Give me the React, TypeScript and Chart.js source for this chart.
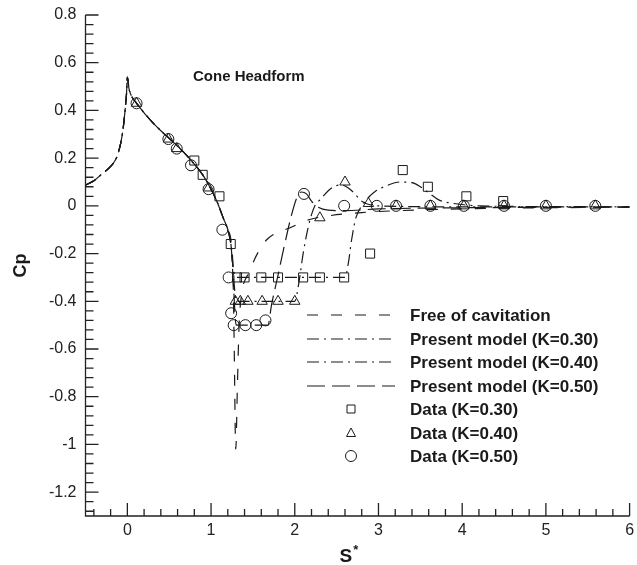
import { useEffect, useRef } from 'react';
import { Chart, registerables } from 'chart.js';

Chart.register(...registerables);

const FONT = '"Liberation Sans", Arial, Helvetica, sans-serif';
const INK = '#1a1a1a';

// Axis ticks
const X_TICKS = [0, 1, 2, 3, 4, 5, 6];
const Y_TICKS = [0.8, 0.6, 0.4, 0.2, 0, -0.2, -0.4, -0.6, -0.8, -1, -1.2];
const Y_LABELS = ['0.8', '0.6', '0.4', '0.2', '0', '-0.2', '-0.4', '-0.6', '-0.8', '-1', '-1.2'];

// Wetted nose region shared by all computed curves (stagnation peak at S*=0)
const noseS = [-0.5, -0.4, -0.3, -0.2, -0.12, -0.06, -0.03, -0.01, 0, 0.02, 0.05, 0.1, 0.2, 0.3, 0.4, 0.5, 0.6, 0.7, 0.8, 0.9, 1.0, 1.08, 1.15, 1.2];
const noseCp = [0.087, 0.105, 0.135, 0.165, 0.21, 0.3, 0.39, 0.47, 0.54, 0.49, 0.46, 0.435, 0.39, 0.35, 0.315, 0.283, 0.25, 0.215, 0.175, 0.13, 0.07, 0.01, -0.055, -0.1];

// Free of cavitation: suction spike at the shoulder, then recovery
const freeTailS = [1.24, 1.26, 1.275, 1.295, 1.315, 1.335, 1.37, 1.42, 1.46, 1.5, 1.57, 1.67, 1.8, 1.93, 2.1, 2.2, 2.4, 2.8, 3.5, 4.5, 6];
const freeTailCp = [-0.15, -0.25, -0.55, -1.02, -0.75, -0.5, -0.36, -0.3, -0.28, -0.24, -0.19, -0.14, -0.11, -0.094, -0.067, -0.055, -0.042, -0.028, -0.017, -0.01, -0.005];

// Present model, K = 0.30
const k30TailS = [1.24, 1.27, 1.3, 2.6, 2.64, 2.68, 2.73, 2.8, 2.88, 2.96, 3.1, 3.25, 3.4, 3.5, 3.6, 3.72, 3.9, 4.2, 5, 6];
const k30TailCp = [-0.17, -0.27, -0.3, -0.3, -0.24, -0.14, -0.05, 0.0, 0.035, 0.06, 0.085, 0.1, 0.097, 0.08, 0.055, 0.025, 0.01, 0.0, -0.003, -0.004];

// Present model, K = 0.40
const k40TailS = [1.24, 1.27, 1.3, 2.0, 2.05, 2.1, 2.17, 2.24, 2.3, 2.44, 2.55, 2.64, 2.72, 2.78, 2.85, 3.0, 4, 6];
const k40TailCp = [-0.17, -0.3, -0.4, -0.4, -0.32, -0.2, -0.075, 0.0, 0.025, 0.075, 0.088, 0.075, 0.05, 0.025, 0.01, 0.0, -0.004, -0.004];

// Present model, K = 0.50
const k50TailS = [1.24, 1.27, 1.3, 1.68, 1.72, 1.8, 1.88, 1.96, 2.02, 2.08, 2.14, 2.2, 2.28, 2.4, 2.6, 3.0, 4, 6];
const k50TailCp = [-0.17, -0.35, -0.5, -0.5, -0.42, -0.29, -0.16, -0.04, 0.03, 0.058, 0.05, 0.02, -0.006, -0.018, -0.02, -0.013, -0.008, -0.005];

// Measurements
const dataK30S = [0.8, 0.9, 1.1, 1.235, 1.31, 1.4, 1.6, 1.8, 2.1, 2.3, 2.59, 2.9, 3.29, 3.59, 4.05, 4.49];
const dataK30Cp = [0.19, 0.13, 0.04, -0.16, -0.3, -0.3, -0.3, -0.3, -0.3, -0.3, -0.3, -0.2, 0.15, 0.08, 0.04, 0.02];

const dataK40S = [0.11, 0.49, 0.59, 0.97, 1.29, 1.35, 1.44, 1.61, 1.8, 2.0, 2.3, 2.6, 2.88, 3.21, 3.62, 4.02, 4.5, 5.0, 5.59];
const dataK40Cp = [0.43, 0.28, 0.24, 0.075, -0.4, -0.4, -0.4, -0.4, -0.4, -0.4, -0.05, 0.1, 0.01, 0.0, 0.0, 0.0, 0.0, 0.0, 0.0];

const dataK50S = [0.11, 0.49, 0.59, 0.76, 0.97, 1.135, 1.21, 1.24, 1.27, 1.41, 1.54, 1.65, 2.11, 2.59, 2.98, 3.21, 3.62, 4.02, 4.5, 5.0, 5.59];
const dataK50Cp = [0.43, 0.28, 0.24, 0.17, 0.07, -0.1, -0.3, -0.45, -0.5, -0.5, -0.5, -0.48, 0.05, 0.0, 0.0, 0.0, 0.0, 0.0, 0.0, 0.0, 0.0];

const LEGEND_LABELS = [
  'Free of cavitation',
  'Present model (K=0.30)',
  'Present model (K=0.40)',
  'Present model (K=0.50)',
  'Data (K=0.30)',
  'Data (K=0.40)',
  'Data (K=0.50)',
];

const DASH_FREE = [11, 13];
const DASH_DOT = [12, 5, 2, 5];
const DASH_LONG = [18, 7];

const pts = (xs: number[], ys: number[]) => xs.map((x, i) => ({ x, y: ys[i] }));

const lineSet = (label: string, xs: number[], ys: number[], dash: number[]) => ({
  type: 'line' as const,
  label,
  data: pts(xs, ys),
  showLine: true,
  borderColor: INK,
  borderWidth: 1.2,
  borderDash: dash,
  pointRadius: 0,
  fill: false,
  cubicInterpolationMode: 'monotone' as const,
});

const markSet = (label: string, xs: number[], ys: number[], style: string, radius: number) => ({
  type: 'scatter' as const,
  label,
  data: pts(xs, ys),
  showLine: false,
  pointStyle: style,
  pointRadius: radius,
  pointBorderWidth: 1,
  pointBorderColor: INK,
  pointBackgroundColor: 'rgba(0,0,0,0)',
});

// Inward tick marks, axis lines, inset title and legend
const decorations = {
  id: 'decorations',
  afterDraw(chart: any) {
    const { ctx, chartArea: a, scales } = chart;
    const x = scales.x;
    const y = scales.y;
    ctx.save();
    ctx.strokeStyle = '#222';
    ctx.lineWidth = 1.3;
    ctx.setLineDash([]);
    ctx.beginPath();
    ctx.moveTo(a.left, a.top);
    ctx.lineTo(a.left, a.bottom);
    ctx.lineTo(a.right, a.bottom);
    for (const v of X_TICKS) {
      const px = x.getPixelForValue(v);
      ctx.moveTo(px, a.bottom);
      ctx.lineTo(px, a.bottom - 13);
    }
    for (let i = -2; i <= 29; i++) {
      if (i % 5 === 0) continue;
      const px = x.getPixelForValue(i * 0.2);
      ctx.moveTo(px, a.bottom);
      ctx.lineTo(px, a.bottom - 7);
    }
    for (const v of Y_TICKS) {
      const py = y.getPixelForValue(v);
      ctx.moveTo(a.left, py);
      ctx.lineTo(a.left + 13, py);
    }
    for (let i = -32; i <= 19; i++) {
      if (i % 5 === 0) continue;
      const py = y.getPixelForValue(i * 0.04);
      ctx.moveTo(a.left, py);
      ctx.lineTo(a.left + 8, py);
    }
    ctx.stroke();

    // x-axis title S*
    ctx.fillStyle = INK;
    ctx.textBaseline = 'alphabetic';
    ctx.textAlign = 'left';
    ctx.font = `bold 19px ${FONT}`;
    const sx = (a.left + a.right) / 2 - 18;
    ctx.fillText('S', sx, 562);
    const sw = ctx.measureText('S').width;
    ctx.font = `bold 13px ${FONT}`;
    ctx.fillText('*', sx + sw + 1, 554);

    // inset title
    ctx.font = `bold 15px ${FONT}`;
    ctx.fillText('Cone Headform', 193, 81);

    // legend
    const rowY = [315, 339, 362, 386, 409, 433, 456];
    const dashes = [DASH_FREE, DASH_DOT, DASH_DOT, DASH_LONG];
    ctx.font = `bold 17px ${FONT}`;
    ctx.textBaseline = 'middle';
    LEGEND_LABELS.forEach((label, i) => {
      const ry = rowY[i];
      ctx.strokeStyle = INK;
      if (i < 4) {
        ctx.lineWidth = 1.2;
        ctx.setLineDash(dashes[i]);
        ctx.beginPath();
        ctx.moveTo(307, ry);
        ctx.lineTo(395, ry);
        ctx.stroke();
        ctx.setLineDash([]);
      } else {
        ctx.lineWidth = 1;
        ctx.beginPath();
        if (i === 4) {
          ctx.rect(351 - 4, ry - 4, 8, 8);
        } else if (i === 5) {
          ctx.moveTo(351, ry - 5);
          ctx.lineTo(355.5, ry + 3.5);
          ctx.lineTo(346.5, ry + 3.5);
          ctx.closePath();
        } else {
          ctx.arc(351, ry, 5.5, 0, Math.PI * 2);
        }
        ctx.stroke();
      }
      ctx.fillStyle = INK;
      ctx.fillText(label, 410, ry + 1);
    });
    ctx.restore();
  },
};

export default function App() {
  const ref = useRef<HTMLCanvasElement | null>(null);

  useEffect(() => {
    document.body.style.margin = '0';
    const canvas = ref.current;
    if (!canvas) return;

    const tickFont = { family: FONT, size: 16 };

    const chart = new Chart(canvas, {
      type: 'scatter',
      data: {
        datasets: [
          markSet(LEGEND_LABELS[4], dataK30S, dataK30Cp, 'rect', 6.4),
          markSet(LEGEND_LABELS[5], dataK40S, dataK40Cp, 'triangle', 6),
          markSet(LEGEND_LABELS[6], dataK50S, dataK50Cp, 'circle', 5.5),
          lineSet(LEGEND_LABELS[0], [...noseS, ...freeTailS], [...noseCp, ...freeTailCp], DASH_FREE),
          lineSet(LEGEND_LABELS[1], [...noseS, ...k30TailS], [...noseCp, ...k30TailCp], DASH_DOT),
          lineSet(LEGEND_LABELS[2], [...noseS, ...k40TailS], [...noseCp, ...k40TailCp], DASH_DOT),
          lineSet(LEGEND_LABELS[3], [...noseS, ...k50TailS], [...noseCp, ...k50TailCp], DASH_LONG),
        ] as any,
      },
      options: {
        responsive: false,
        animation: false,
        events: [],
        layout: { padding: { top: 15, right: 4.3, left: 0, bottom: 0 } },
        plugins: {
          legend: { display: false },
          tooltip: { enabled: false },
        },
        scales: {
          x: {
            type: 'linear',
            min: -0.5,
            max: 6,
            afterFit: (s: any) => {
              s.height = 49;
              s.paddingLeft = 0;
              s.paddingRight = 0;
            },
            afterBuildTicks: (s: any) => { s.ticks = X_TICKS.map((v) => ({ value: v })); },
            grid: { display: false, drawTicks: false },
            border: { display: false },
            ticks: {
              padding: 5,
              font: tickFont,
              color: '#222',
              maxRotation: 0,
              autoSkip: false,
              callback: (v: any) => String(v),
            },
          },
          y: {
            type: 'linear',
            min: -1.3,
            max: 0.8,
            afterFit: (s: any) => {
              s.width = 85.5;
              s.paddingTop = 0;
              s.paddingBottom = 0;
            },
            afterBuildTicks: (s: any) => { s.ticks = Y_TICKS.map((v) => ({ value: v })); },
            grid: { display: false, drawTicks: false },
            border: { display: false },
            ticks: {
              padding: 9,
              font: tickFont,
              color: '#222',
              autoSkip: false,
              callback: (v: any) => {
                const i = Y_TICKS.findIndex((t) => Math.abs(t - v) < 1e-9);
                return i >= 0 ? Y_LABELS[i] : '';
              },
            },
            title: {
              display: true,
              text: 'Cp',
              color: INK,
              font: { family: FONT, size: 18, weight: 'bold' },
              padding: { top: 10, bottom: 0 },
            },
          },
        },
      },
      plugins: [decorations],
    });

    return () => chart.destroy();
  }, []);

  return (
    <div style={{ width: 637, height: 565 }}>
      <canvas ref={ref} width={637} height={565} style={{ display: 'block' }} />
    </div>
  );
}
